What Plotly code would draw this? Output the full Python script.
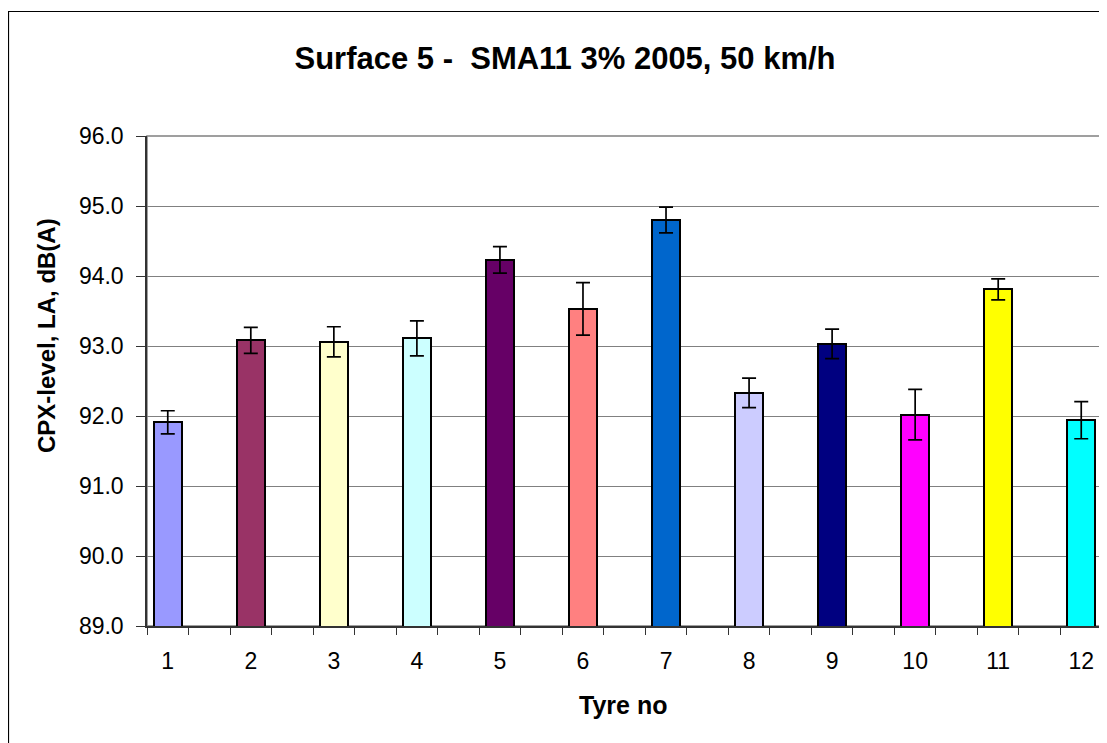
import plotly.graph_objects as go

# ---- data ----
tyre_labels = ["1", "2", "3", "4", "5", "6", "7", "8", "9", "10", "11", "12"]
cpx_level = [91.91, 93.08, 93.06, 93.11, 94.23, 93.53, 94.80, 92.33, 93.03, 92.02, 93.81, 91.94]
cpx_error = [0.165, 0.185, 0.215, 0.25, 0.19, 0.375, 0.185, 0.21, 0.21, 0.36, 0.15, 0.265]
bar_colors = ["#9999FF", "#993366", "#FFFFCC", "#CCFFFF", "#660066", "#FF8080",
              "#0066CC", "#CCCCFF", "#000080", "#FF00FF", "#FFFF00", "#00FFFF"]
y_ticks = [89.0, 90.0, 91.0, 92.0, 93.0, 94.0, 95.0, 96.0]

# bars sit in every other slot of a 23-slot category axis
slot_pos = [2 * i + 1 for i in range(len(tyre_labels))]

# page body has an 8px margin; lay out in reference pixel coords minus 8
OFF = 8
W, H = 1107 - OFF, 743 - OFF
ML = 147 - OFF
MT = 136 - OFF
MR = W - (1102 - OFF)
MB = H - (626 - OFF)
pw = W - ML - MR
ph = H - MT - MB

def px_x(x):
    return (x - OFF - ML) / pw

def px_y(y):
    return (H - MB - (y - OFF)) / ph

fig = go.Figure()
fig.add_trace(go.Bar(
    x=slot_pos, y=cpx_level, width=0.67,
    marker=dict(color=bar_colors, line=dict(color="black", width=2)),
    error_y=dict(type="data", array=cpx_error, visible=True,
                 color="black", thickness=1.7, width=7),
    showlegend=False,
))

font = "Liberation Sans, Arial, sans-serif"
fig.update_layout(
    width=W, height=H,
    margin=dict(l=ML, r=MR, t=MT, b=MB),
    paper_bgcolor="white", plot_bgcolor="white",
    font=dict(family=font, color="black"),
    title=dict(text="<b>Surface 5 -  SMA11 3% 2005, 50 km/h</b>",
               x=(565 - OFF) / W, xref="container", xanchor="center",
               y=1 - (58 - OFF) / H, yref="container", yanchor="middle",
               font=dict(size=31, family=font, color="black")),
    xaxis=dict(range=[0.5, 23.5], tickvals=slot_pos, ticktext=tyre_labels,
               ticks="", showgrid=False, zeroline=False,
               showline=True, linecolor="#333333", linewidth=1.5, mirror=False,
               tickfont=dict(size=23), ticklabelstandoff=14,
               minor=dict(tick0=0.5, dtick=1, ticks="outside", ticklen=7,
                          tickcolor="#333333", tickwidth=1.2, showgrid=False)),
    yaxis=dict(range=[89, 96], tickvals=y_ticks,
               ticktext=[f"{v:.1f}" for v in y_ticks],
               ticks="outside", ticklen=9, tickcolor="#333333", tickwidth=1.2,
               showgrid=True, gridcolor="#808080", gridwidth=1.2, zeroline=False,
               showline=True, linecolor="#333333", linewidth=1.5, mirror=False,
               tickfont=dict(size=23), ticklabelstandoff=8),
    bargap=0,
)

fig.add_annotation(text="<b>Tyre no</b>", xref="paper", yref="paper",
                   x=px_x(623), y=px_y(705), showarrow=False,
                   xanchor="center", yanchor="middle", font=dict(size=25))
fig.add_annotation(text="<b>CPX-level, LA, dB(A)</b>", xref="paper", yref="paper",
                   x=px_x(46), y=px_y(336), showarrow=False, textangle=-90,
                   xanchor="center", yanchor="middle", font=dict(size=24))

# plot-area border (grey) and outer chart border (black)
fig.add_shape(type="rect", xref="paper", yref="paper",
              x0=0, y0=0, x1=1, y1=1,
              line=dict(color="#808080", width=1.5), layer="below")
fig.add_shape(type="rect", xref="paper", yref="paper",
              x0=px_x(8.5), y0=px_y(780), x1=px_x(1140), y1=px_y(11.5),
              line=dict(color="black", width=1.2), layer="below")

fig.write_html("out.html")
